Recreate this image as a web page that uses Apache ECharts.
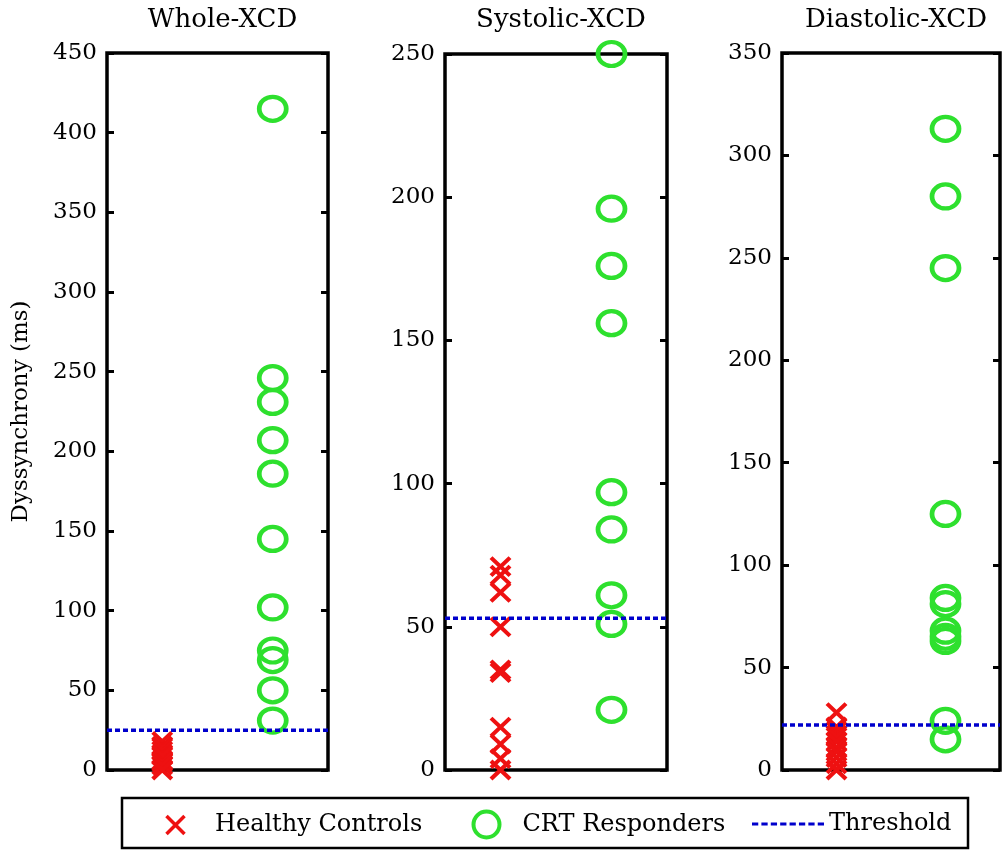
<!DOCTYPE html>
<html>
<head>
<meta charset="utf-8">
<script src="https://cdn.jsdelivr.net/npm/echarts@6/dist/echarts.min.js"></script>
<style>html,body{margin:0;padding:0;background:#fff}#c{width:1008px;height:851px}</style>
</head>
<body>
<div id="c"></div>
<script>
// ---- data ----
const panelTitles = ['Whole-XCD', 'Systolic-XCD', 'Diastolic-XCD'];
const yMaxes = [450, 250, 350];
const yInterval = 50;
const groupPositions = [1, 2]; // Healthy Controls, CRT Responders
const healthyWhole = [18, 15, 14, 12, 10, 9, 6, 5, 3, 0];
const crtWhole = [415, 246, 231, 207, 186, 145, 102, 75, 69, 50, 31];
const healthySystolic = [71, 68, 62, 50, 35, 34, 15, 9, 4, 0];
const crtSystolic = [250, 196, 176, 156, 97, 84, 61, 51, 21];
const healthyDiastolic = [28, 21, 19, 17, 16, 14, 11, 9, 6, 3, 0];
const crtDiastolic = [313, 280, 245, 125, 84, 81, 68, 65, 63, 24, 15];
const thresholds = [25, 53, 22];
const seriesNames = ['Healthy Controls', 'CRT Responders', 'Threshold'];
const yAxisName = 'Dyssynchrony (ms)';

const healthyAll = [healthyWhole, healthySystolic, healthyDiastolic];
const crtAll = [crtWhole, crtSystolic, crtDiastolic];

// ---- style ----
const FONT = 'DejaVu Serif';
const RED = '#ee1111';
const GREEN = '#2ee02e';
const BLUE = '#0000cc';
const X_PATH = 'path://M0,0L10,10M0,10L10,0';
const DASH_PATH = 'path://M0,0h6v3h-6zM9,0h6v3h-6zM18,0h6v3h-6zM27,0h6v3h-6zM36,0h6v3h-6zM45,0h6v3h-6zM54,0h6v3h-6zM63,0h6v3h-6z';

const grids = [
  {left: 107, top: 53, width: 221, height: 717},
  {left: 445, top: 54, width: 222, height: 716},
  {left: 782, top: 53, width: 218, height: 717}
];

const option = {
  backgroundColor: '#fff',
  animation: false,
  title: panelTitles.map((t, i) => ({
    text: t,
    left: grids[i].left + grids[i].width / 2,
    textAlign: 'center',
    top: 2,
    textStyle: {fontFamily: FONT, fontSize: 26, fontWeight: 'normal', color: '#000'}
  })),
  grid: grids.map(g => Object.assign({show: true, borderColor: '#000', borderWidth: 3.5, backgroundColor: 'transparent'}, g)),
  xAxis: grids.map((g, i) => ({
    gridIndex: i, type: 'value', min: 0.5, max: 2.5,
    axisLine: {show: false}, axisTick: {show: false}, axisLabel: {show: false}, splitLine: {show: false}
  })),
  yAxis: [].concat(...grids.map((g, i) => [
    {
      gridIndex: i, type: 'value', min: 0, max: yMaxes[i], interval: yInterval, position: 'left',
      name: i === 0 ? yAxisName : '', nameLocation: 'middle', nameGap: 74,
      nameTextStyle: {fontFamily: FONT, fontSize: 23, color: '#000'},
      axisLine: {show: false},
      axisTick: {show: true, inside: true, length: 7, lineStyle: {color: '#000', width: 3}},
      axisLabel: {fontFamily: FONT, fontSize: 23, color: '#000', margin: 10},
      splitLine: {show: false}
    },
    {
      gridIndex: i, type: 'value', min: 0, max: yMaxes[i], interval: yInterval, position: 'right',
      axisLine: {show: false},
      axisTick: {show: true, inside: true, length: 7, lineStyle: {color: '#000', width: 3}},
      axisLabel: {show: false},
      splitLine: {show: false}
    }
  ])),
  legend: [
    {
      data: [{name: seriesNames[0], icon: X_PATH, itemStyle: {color: 'none', borderColor: RED, borderWidth: 3.5}}],
      left: 159, top: 808, itemWidth: 19, itemHeight: 18, selectedMode: false,
      textStyle: {fontFamily: FONT, fontSize: 24, color: '#000', padding: [0, 0, 0, 25]}
    },
    {
      data: [{name: seriesNames[1], icon: 'circle', itemStyle: {color: 'none', borderColor: GREEN, borderWidth: 4}}],
      left: 466, top: 804, itemWidth: 26, itemHeight: 26, selectedMode: false,
      textStyle: {fontFamily: FONT, fontSize: 24, color: '#000', padding: [0, 0, 0, 18]}
    },
    {
      data: [{name: seriesNames[2], icon: DASH_PATH, itemStyle: {color: BLUE}}],
      left: 747, top: 807, itemWidth: 72, itemHeight: 4, selectedMode: false,
      textStyle: {fontFamily: FONT, fontSize: 24, color: '#000', padding: [0, 0, 0, 0]}
    }
  ],
  graphic: [{
    type: 'rect', shape: {x: 122, y: 798, width: 846, height: 50},
    style: {fill: 'none', stroke: '#000', lineWidth: 2.5}, z: 100
  }],
  series: [].concat(...grids.map((g, i) => [
    {
      name: seriesNames[0], type: 'scatter', xAxisIndex: i, yAxisIndex: i * 2, clip: false,
      symbol: X_PATH, symbolSize: [19, 18],
      itemStyle: {color: 'none', borderColor: RED, borderWidth: 4, opacity: 1},
      data: healthyAll[i].map(v => [groupPositions[0], v]), z: 3
    },
    {
      name: seriesNames[1], type: 'scatter', xAxisIndex: i, yAxisIndex: i * 2, clip: false,
      symbol: 'circle', symbolSize: [27, 24],
      itemStyle: {color: 'none', borderColor: GREEN, borderWidth: 4.5, opacity: 1},
      data: crtAll[i].map(v => [groupPositions[1], v]), z: 3
    },
    {
      name: seriesNames[2], type: 'line', xAxisIndex: i, yAxisIndex: i * 2,
      symbol: 'none', color: BLUE,
      lineStyle: {color: BLUE, width: 3.5, type: [5, 3]},
      data: [[0.5, thresholds[i]], [2.5, thresholds[i]]], z: 4
    }
  ]))
};

const chart = echarts.init(document.getElementById('c'), null, {renderer: 'canvas'});
chart.setOption(option);
</script>
</body>
</html>
